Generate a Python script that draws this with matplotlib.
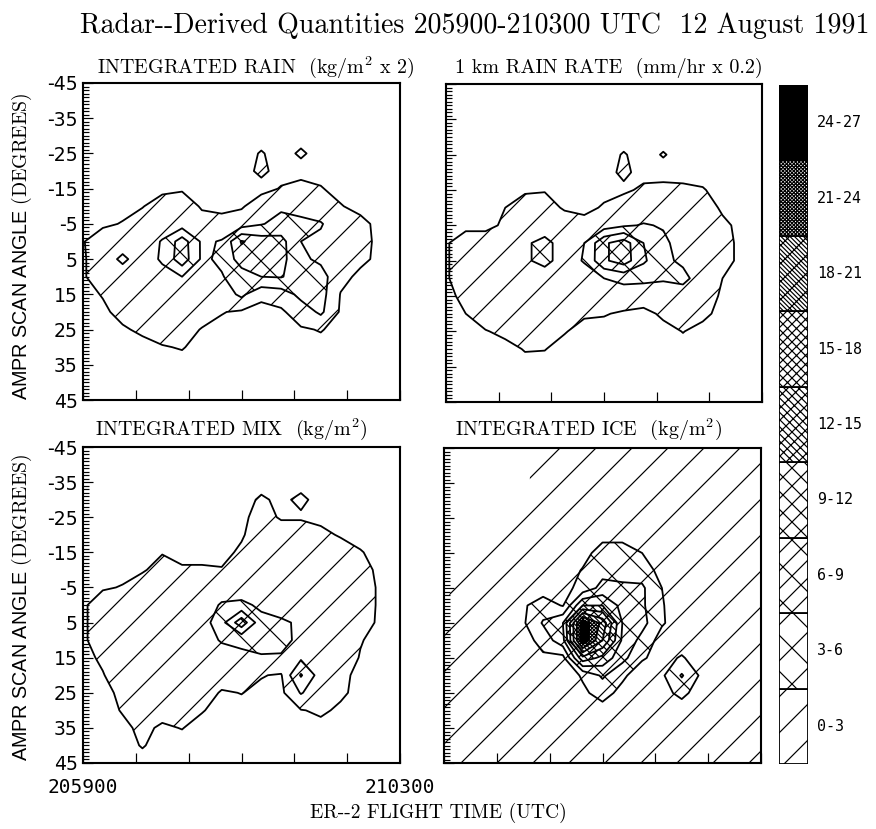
import matplotlib
matplotlib.use("Agg")
import matplotlib.pyplot as plt
from matplotlib.ticker import MultipleLocator, NullLocator

plt.rcParams['hatch.color'] = 'black'
plt.rcParams['hatch.linewidth'] = 0.4
plt.rcParams['mathtext.fontset'] = 'cm'
plt.rcParams['axes.unicode_minus'] = False

DPI = 216
W, H = 876, 829

# ---------------- data ----------------
time_s = [0, 15, 30, 45, 60, 75, 90, 105, 120, 135, 150, 165, 180, 195, 210, 225, 240]
scan_deg = [-45, -40, -35, -30, -25, -20, -15, -10, -5, 0, 5, 10, 15, 20, 25, 30, 35, 40, 45]
xtick_s = [0, 40, 80, 120, 160, 200, 240]
xtick_labels = ['205900', '', '', '', '', '', '210300']
ytick_deg = [-45, -35, -25, -15, -5, 5, 15, 25, 35, 45]

class_levels = [0.5, 3, 6, 9, 12, 15, 18, 21, 24, 27]
class_bounds = [0, 3, 6, 9, 12, 15, 18, 21, 24, 27]
class_labels = ['0-3', '3-6', '6-9', '9-12', '12-15', '15-18', '18-21', '21-24', '24-27']
class_hatches = ['//', 'xx', '//xx', 'xxxx', 'xxxxxx\\\\\\\\', 'xxxxxxxx',
                 '\\\\\\\\\\\\\\\\\\\\\\\\\\\\\\\\////', 'xxxxxxxxxxxxxxxxxxxx', None]
class_fills = ['none', 'none', 'none', 'none', 'none', 'none', 'none', 'none', 'black']

rain_int = [
    [0, 0, 0, 0, 0, 0, 0, 0, 0, 0, 0, 0, 0, 0, 0, 0, 0],
    [0, 0, 0, 0, 0, 0, 0, 0, 0, 0, 0, 0, 0, 0, 0, 0, 0],
    [0, 0, 0, 0, 0, 0, 0, 0, 0, 0, 0, 0, 0, 0, 0, 0, 0],
    [0, 0, 0, 0, 0, 0, 0, 0, 0, 0, 0, 0, 0, 0, 0, 0, 0],
    [0, 0, 0, 0, 0, 0, 0, 0, 0, 0.6, 0, 0.7, 0, 0, 0, 0, 0],
    [0, 0, 0, 0, 0, 0, 0, 0, 0, 0.8, 0, 0, 0, 0, 0, 0, 0],
    [0, 0, 0, 0, 0, 0.3, 0, 0, 0, 0, 0.6, 1.0, 0.6, 0, 0, 0, 0],
    [0, 0, 0, 0.4, 1.5, 1.5, 0.3, 0, 0.3, 1.5, 2.5, 1.5, 1.5, 0.6, 0, 0, 0],
    [0, 0.2, 0.6, 1.5, 1.5, 1.5, 1.2, 1.2, 1.5, 2.8, 4.0, 4.0, 3.2, 1.5, 1.0, 0, 0],
    [0.4, 1.5, 1.5, 1.5, 3.2, 7.5, 2.5, 3.2, 9.3, 7.5, 7.0, 3.0, 2.5, 1.5, 1.2, 0, 0],
    [0.3, 1.5, 3.6, 1.5, 3.4, 7.8, 2.5, 3.5, 7.5, 8.0, 7.0, 3.5, 2.5, 1.5, 1.0, 0, 0],
    [0.3, 1.5, 1.5, 1.5, 2.0, 3.0, 1.8, 2.8, 4.5, 6.0, 6.2, 4.5, 4.0, 1.2, 0, 0, 0],
    [0, 0.6, 1.5, 1.5, 1.5, 1.5, 1.5, 1.5, 3.6, 0.9, 1.5, 3.8, 4.0, 0.4, 0, 0, 0],
    [0, 0.2, 1.0, 1.5, 1.5, 1.5, 1.3, 0.6, 0.2, 0, 0.2, 1.5, 3.5, 0.2, 0, 0, 0],
    [0, 0, 0.3, 0.8, 1.2, 1.2, 0.4, 0, 0, 0, 0, 0.3, 0.6, 0, 0, 0, 0],
    [0, 0, 0, 0, 0.4, 0.6, 0, 0, 0, 0, 0, 0, 0, 0, 0, 0, 0],
    [0, 0, 0, 0, 0, 0, 0, 0, 0, 0, 0, 0, 0, 0, 0, 0, 0],
    [0, 0, 0, 0, 0, 0, 0, 0, 0, 0, 0, 0, 0, 0, 0, 0, 0],
    [0, 0, 0, 0, 0, 0, 0, 0, 0, 0, 0, 0, 0, 0, 0, 0, 0],
]

rain_rate = [
    [0, 0, 0, 0, 0, 0, 0, 0, 0, 0, 0, 0, 0, 0, 0, 0, 0],
    [0, 0, 0, 0, 0, 0, 0, 0, 0, 0, 0, 0, 0, 0, 0, 0, 0],
    [0, 0, 0, 0, 0, 0, 0, 0, 0, 0, 0, 0, 0, 0, 0, 0, 0],
    [0, 0, 0, 0, 0, 0, 0, 0, 0, 0, 0, 0, 0, 0, 0, 0, 0],
    [0, 0, 0, 0, 0, 0, 0, 0, 0, 0.6, 0, 0.6, 0, 0, 0, 0, 0],
    [0, 0, 0, 0, 0, 0, 0, 0, 0, 0.8, 0, 0, 0, 0, 0, 0, 0],
    [0, 0, 0, 0, 0.3, 0.4, 0, 0, 0, 0.2, 0.8, 0.9, 0.8, 0.6, 0, 0, 0],
    [0, 0, 0, 0.5, 1.2, 1.2, 0.3, 0, 0.7, 1.5, 1.5, 1.5, 1.5, 1.5, 0.2, 0, 0],
    [0, 0, 0, 0.8, 1.5, 1.5, 1.5, 1.2, 1.5, 2.6, 3.2, 2.8, 2.0, 1.5, 0.9, 0, 0],
    [0.3, 1.5, 1.5, 1.5, 2.6, 3.8, 1.8, 3.0, 8.5, 10.5, 6.0, 3.5, 2.0, 1.5, 1.2, 0, 0],
    [0.3, 1.5, 1.5, 1.5, 2.6, 3.8, 1.8, 3.2, 8.5, 10.5, 6.5, 3.6, 2.5, 1.5, 1.2, 0, 0],
    [0.3, 1.5, 1.5, 1.5, 1.5, 1.5, 1.5, 1.8, 3.0, 3.8, 3.6, 3.3, 3.8, 1.5, 0.5, 0, 0],
    [0, 1.0, 1.5, 1.5, 1.5, 1.5, 1.5, 1.5, 1.5, 1.5, 1.5, 1.5, 1.5, 1.2, 0.3, 0, 0],
    [0, 0.5, 1.5, 1.5, 1.5, 1.5, 1.5, 0.7, 0.6, 0.3, 0, 0.8, 1.0, 0.9, 0, 0, 0],
    [0, 0, 0.4, 0.9, 1.2, 1.2, 0.6, 0, 0, 0, 0, 0, 0.55, 0, 0, 0, 0],
    [0, 0, 0, 0, 0.6, 0.55, 0, 0, 0, 0, 0, 0, 0, 0, 0, 0, 0],
    [0, 0, 0, 0, 0, 0, 0, 0, 0, 0, 0, 0, 0, 0, 0, 0, 0],
    [0, 0, 0, 0, 0, 0, 0, 0, 0, 0, 0, 0, 0, 0, 0, 0, 0],
    [0, 0, 0, 0, 0, 0, 0, 0, 0, 0, 0, 0, 0, 0, 0, 0, 0],
]

mix_int = [
    [0, 0, 0, 0, 0, 0, 0, 0, 0, 0, 0, 0, 0, 0, 0, 0, 0],
    [0, 0, 0, 0, 0, 0, 0, 0, 0, 0, 0, 0, 0, 0, 0, 0, 0],
    [0, 0, 0, 0, 0, 0, 0, 0, 0, 0, 0, 0, 0, 0, 0, 0, 0],
    [0, 0, 0, 0, 0, 0, 0, 0, 0, 0.7, 0.2, 0.8, 0, 0, 0, 0, 0],
    [0, 0, 0, 0, 0, 0, 0, 0, 0.1, 1.2, 0.3, 0.3, 0, 0, 0, 0, 0],
    [0, 0, 0, 0, 0, 0, 0, 0, 0.3, 1.5, 1.5, 1.5, 1.0, 0.3, 0, 0, 0],
    [0, 0, 0, 0, 0.4, 0, 0, 0, 0.8, 1.5, 1.5, 1.5, 1.5, 1.5, 0.6, 0, 0],
    [0, 0, 0, 0.3, 1.2, 0.7, 0.7, 0.6, 1.5, 1.5, 1.5, 1.5, 1.5, 1.5, 1.0, 0.2, 0],
    [0, 0.3, 0.6, 1.5, 1.5, 1.5, 1.5, 1.5, 1.5, 1.5, 1.5, 1.5, 1.5, 1.5, 1.5, 0.2, 0],
    [0.2, 1.5, 1.5, 1.5, 1.5, 1.5, 1.5, 3.3, 3.6, 2.5, 1.5, 1.5, 1.5, 1.5, 1.5, 0.2, 0],
    [0.2, 1.5, 1.5, 1.5, 1.5, 1.5, 1.5, 5.0, 11.0, 3.8, 3.5, 2.5, 1.5, 1.5, 1.5, 0.1, 0],
    [0.2, 1.5, 1.5, 1.5, 1.5, 1.5, 1.5, 3.3, 3.5, 3.8, 3.6, 2.5, 1.5, 1.5, 0.6, 0, 0],
    [0, 0.8, 1.5, 1.5, 1.5, 1.5, 1.5, 1.5, 2.5, 2.8, 2.8, 2.5, 1.5, 1.5, 0.4, 0, 0],
    [0, 0.4, 1.5, 1.5, 1.5, 1.5, 1.5, 1.5, 1.2, 0.6, 0.3, 6.3, 1.5, 0.8, 0.2, 0, 0],
    [0, 0, 0.9, 1.5, 1.5, 1.5, 1.5, 0.3, 0.55, 0.1, 0, 3.2, 1.3, 0.8, 0, 0, 0],
    [0, 0, 0.6, 0.6, 1.0, 1.0, 0.6, 0, 0, 0, 0, 0.4, 0.8, 0.2, 0, 0, 0],
    [0, 0, 0.2, 0.8, 0.3, 0.55, 0, 0, 0, 0, 0, 0, 0, 0, 0, 0, 0],
    [0, 0, 0, 0.6, 0, 0, 0, 0, 0, 0, 0, 0, 0, 0, 0, 0, 0],
    [0, 0, 0, 0, 0, 0, 0, 0, 0, 0, 0, 0, 0, 0, 0, 0, 0],
]

ice_int = [
    [0, 0, 0, 0, 0, 0, 1.5, 1.5, 1.5, 1.5, 1.5, 1.5, 1.5, 1.5, 1.5, 1.5, 1.5],
    [0, 0, 0, 0, 0, 1.5, 1.5, 1.5, 1.5, 1.5, 1.5, 1.5, 1.5, 1.5, 1.5, 1.5, 1.5],
    [0, 0, 0, 0, 0, 1.5, 1.5, 1.5, 1.5, 1.5, 1.5, 1.5, 1.5, 1.5, 1.5, 1.5, 1.5],
    [0, 0, 0, 0, 1.5, 1.5, 1.5, 1.5, 1.5, 1.5, 1.5, 1.5, 1.5, 1.5, 1.5, 1.5, 1.5],
    [0, 0, 0, 0, 1.5, 1.5, 1.5, 1.5, 1.5, 1.5, 1.5, 1.5, 1.5, 1.5, 1.5, 1.5, 1.5],
    [0, 0, 0, 1.5, 1.5, 1.5, 1.5, 1.5, 2.2, 2.2, 1.5, 1.5, 1.5, 1.5, 1.5, 1.5, 1.5],
    [0, 0, 1.5, 1.5, 1.5, 1.5, 1.5, 2.0, 4.2, 4.2, 3.0, 1.5, 1.5, 1.5, 1.5, 1.5, 1.5],
    [0, 0, 1.5, 1.5, 1.5, 1.5, 1.5, 3.2, 5.0, 5.0, 4.5, 2.0, 1.5, 1.5, 1.5, 1.5, 1.5],
    [0, 1.5, 1.5, 1.5, 1.5, 1.5, 2.0, 4.0, 7.0, 6.5, 6.5, 3.0, 1.5, 1.5, 1.5, 1.5, 1.5],
    [0.3, 1.5, 1.5, 1.5, 2.6, 4.5, 2.8, 12.0, 12.0, 8.0, 6.5, 3.2, 1.5, 1.5, 1.5, 1.5, 1.5],
    [1.5, 1.5, 1.5, 1.5, 2.6, 6.3, 9.0, 26.0, 20.0, 9.0, 7.0, 3.3, 1.5, 1.5, 1.5, 1.5, 1.5],
    [1.5, 1.5, 1.5, 1.5, 1.8, 4.0, 8.0, 26.5, 18.0, 8.5, 5.0, 1.8, 1.5, 1.5, 1.5, 1.5, 1.5],
    [1.5, 1.5, 1.5, 1.5, 1.5, 2.5, 2.0, 14.0, 11.0, 7.0, 3.3, 2.0, 3.3, 1.5, 1.5, 1.5, 1.5],
    [1.5, 1.5, 1.5, 1.5, 1.5, 1.5, 1.5, 3.3, 6.5, 3.5, 1.5, 2.5, 6.3, 2.4, 1.5, 1.5, 1.5],
    [1.5, 1.5, 1.5, 1.5, 1.5, 1.5, 1.5, 2.5, 4.0, 2.2, 1.5, 2.0, 3.8, 1.5, 1.5, 1.5, 1.5],
    [1.5, 1.5, 1.5, 1.5, 1.5, 1.5, 1.5, 1.5, 2.0, 1.5, 1.5, 1.5, 1.5, 1.5, 1.5, 1.5, 1.5],
    [1.5, 1.5, 1.5, 1.5, 1.5, 1.5, 1.5, 1.5, 1.5, 1.5, 1.5, 1.5, 1.5, 1.5, 1.5, 1.5, 1.5],
    [1.5, 1.5, 1.5, 1.5, 1.5, 1.5, 1.5, 1.5, 1.5, 1.5, 1.5, 1.5, 1.5, 1.5, 1.5, 1.5, 1.5],
    [1.5, 1.5, 1.5, 1.5, 1.5, 1.5, 1.5, 1.5, 1.5, 1.5, 1.5, 1.5, 1.5, 1.5, 1.5, 1.5, 1.5],
]

# ---------------- figure ----------------
fig = plt.figure(figsize=(W / DPI, H / DPI), dpi=DPI)
fig.patch.set_facecolor('white')


def px_axes(x0, y0, x1, y1):
    return fig.add_axes([x0 / W, 1 - y1 / H, (x1 - x0) / W, (y1 - y0) / H])


def draw_panel(ax, field, line_levels, show_xlabels, show_ylabels):
    ax.contourf(time_s, scan_deg, field, levels=class_levels,
                colors=class_fills, hatches=class_hatches)
    ax.contour(time_s, scan_deg, field, levels=line_levels,
               colors='black', linewidths=0.6)
    ax.set_xlim(time_s[0], time_s[-1])
    ax.set_ylim(scan_deg[-1], scan_deg[0])
    ax.set_yticks(ytick_deg)
    ax.yaxis.set_minor_locator(MultipleLocator(1))
    ax.set_xticks(xtick_s)
    ax.xaxis.set_minor_locator(NullLocator())
    if show_xlabels:
        ax.set_xticklabels(xtick_labels, family='DejaVu Sans Mono', fontsize=6.5)
    else:
        ax.set_xticklabels([''] * len(xtick_s))
    if show_ylabels:
        ax.set_yticklabels([str(v) for v in ytick_deg], family='DejaVu Sans', fontsize=6.3)
    else:
        ax.tick_params(axis='y', labelleft=False)
    ax.tick_params(which='both', direction='in', top=False, right=False, width=0.4)
    ax.tick_params(which='major', length=3.3)
    ax.tick_params(which='minor', length=2.0)
    ax.tick_params(axis='y', pad=1.7)
    ax.tick_params(axis='x', pad=5)
    for s in ax.spines.values():
        s.set_linewidth(0.7)


rain_lines = class_levels[:-1]
ice_lines = class_levels[1:-1]

ax1 = px_axes(83, 83, 400, 400)
draw_panel(ax1, rain_int, rain_lines, False, True)
ax2 = px_axes(446, 84, 762, 402)
draw_panel(ax2, rain_rate, rain_lines, False, False)
ax3 = px_axes(83, 447, 400, 763)
draw_panel(ax3, mix_int, rain_lines, True, True)
ax4 = px_axes(444, 448, 761, 763)
draw_panel(ax4, ice_int, ice_lines, False, False)

# colour key
cax = px_axes(779, 85, 808, 764)
for lo, hi, hatch, fill, lab in zip(class_bounds[:-1], class_bounds[1:],
                                    class_hatches, class_fills, class_labels):
    cax.bar(0, hi - lo, width=1, bottom=lo,
            color=('white' if fill == 'none' else fill),
            hatch=hatch, edgecolor='black', linewidth=0.6)
    cax.text(0.81, (lo + hi) / 2, lab, ha='left', va='center',
             family='DejaVu Sans Mono', fontsize=5, clip_on=False)
cax.set_xlim(-0.5, 0.5)
cax.set_ylim(class_bounds[0], class_bounds[-1])
cax.axis('off')

# texts
fig.text(80 / W, 1 - 33 / H, 'Radar--Derived Quantities 205900-210300 UTC  12 August 1991',
         ha='left', va='baseline', family='cmr10', fontsize=9.3)
fig.text(97 / W, 1 - 73 / H, 'INTEGRATED RAIN  (kg/m$^2$ x 2)',
         ha='left', va='baseline', family='cmr10', fontsize=6.7)
fig.text(455 / W, 1 - 73 / H, '1 km RAIN RATE  (mm/hr x 0.2)',
         ha='left', va='baseline', family='cmr10', fontsize=6.7)
fig.text(95 / W, 1 - 435 / H, 'INTEGRATED MIX  (kg/m$^2$)',
         ha='left', va='baseline', family='cmr10', fontsize=6.7)
fig.text(455 / W, 1 - 435 / H, 'INTEGRATED ICE  (kg/m$^2$)',
         ha='left', va='baseline', family='cmr10', fontsize=6.7)
for yc in (246, 607):
    fig.text(22 / W, 1 - yc / H, 'AMPR SCAN ANGLE $\\mathrm{(DEGREES)}$',
             rotation=90, ha='center', va='center', family='Liberation Sans', fontsize=6.6)
fig.text(438 / W, 1 - 818 / H, 'ER--2 FLIGHT TIME (UTC)',
         ha='center', va='baseline', family='cmr10', fontsize=6.5)

fig.savefig('out.png', dpi=DPI, facecolor='white')
